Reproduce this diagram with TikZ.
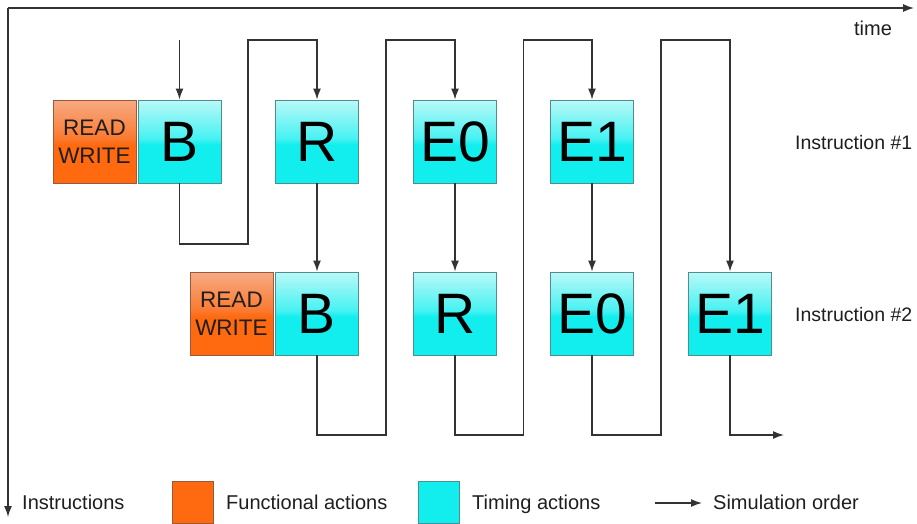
\documentclass[tikz,border=0pt]{standalone}
\usepackage{fontspec}
\setmainfont{Liberation Sans}
\usetikzlibrary{arrows.meta}
\definecolor{cyT}{HTML}{BAF8F8}
\definecolor{cyM}{HTML}{48F2F2}
\definecolor{cyB}{HTML}{12EEEE}
\definecolor{orT}{HTML}{F7AA84}
\definecolor{orM}{HTML}{FB7A30}
\definecolor{orB}{HTML}{FF6A10}
\definecolor{cyEdge}{HTML}{4E8E8E}
\definecolor{orEdge}{HTML}{9A5A3A}
\definecolor{lineC}{HTML}{333333}
\definecolor{txt}{HTML}{1E1E1E}
\pgfdeclareverticalshading{cyshade}{100bp}{color(0bp)=(cyB); color(25bp)=(cyB); color(48bp)=(cyB); color(52bp)=(cyM); color(75bp)=(cyT); color(100bp)=(cyT)}
\pgfdeclareverticalshading{orshade}{100bp}{color(0bp)=(orB); color(25bp)=(orB); color(48bp)=(orB); color(52bp)=(orM); color(75bp)=(orT); color(100bp)=(orT)}
\tikzset{
  timing/.style={draw=cyEdge, line width=0.9pt, shading=cyshade, minimum width=83pt, minimum height=83pt, inner sep=0pt, text=black, font=\fontsize{57}{60}\selectfont},
  func/.style={draw=orEdge, line width=0.9pt, shading=orshade, minimum width=83pt, minimum height=83pt, inner sep=0pt, text=txt, align=center, font=\fontsize{22.5}{28}\selectfont},
  flow/.style={draw=lineC, line width=1.4pt, -{Latex[length=11pt,width=8pt]}},
  lbl/.style={text=txt, font=\fontsize{20}{22}\selectfont, inner sep=0pt, anchor=west, text height=14.5pt, text depth=4.5pt},
  legsq/.style={line width=0.8pt, minimum width=41pt, minimum height=42pt, inner sep=0pt}
}
\begin{document}
\begin{tikzpicture}[x=1pt,y=-1pt]
\useasboundingbox (0,0) rectangle (917,523);
\fill[white] (0,0) rectangle (917,523);
% axes
\coordinate (o) at (8,8);
\coordinate (tend) at (914,8);
\coordinate (iend) at (8,517);
\draw[flow] (o) -- (tend);
\draw[flow] (o) -- (iend);
\node[lbl, anchor=center] (time) at (873,30) {time};
% row 1
\node[func] (rw1) at (94.5,141.5) {READ\\WRITE};
\node[timing] (b1) at (179.5,141.5) {B};
\node[timing] (r1) at (317,141.5) {R};
\node[timing] (e01) at (455,141.5) {E0};
\node[timing] (e11) at (592,141.5) {E1};
% row 2
\node[func] (rw2) at (231.5,313.5) {READ\\WRITE};
\node[timing] (b2) at (317,313.5) {B};
\node[timing] (r2) at (455,313.5) {R};
\node[timing] (e02) at (592,313.5) {E0};
\node[timing] (e12) at (730,313.5) {E1};
% instruction labels
\node[lbl, font=\fontsize{19.5}{22}\selectfont] (i1) at (795,144) {Instruction \#1};
\node[lbl, font=\fontsize{19.5}{22}\selectfont] (i2) at (795,316) {Instruction \#2};
% simulation order
\coordinate (s0) at (179.5,40);
\coordinate (fin) at (784,435);
\draw[flow] (s0) -- (b1.north);
\draw[flow] (b1.south) |- (248,244) |- (r1.north |- s0) -- (r1.north);
\draw[flow] (r1.south) -- (b2.north);
\draw[flow] (b2.south) |- (386,435) |- (e01.north |- s0) -- (e01.north);
\draw[flow] (e01.south) -- (r2.north);
\draw[flow] (r2.south) |- (523.5,435) |- (e11.north |- s0) -- (e11.north);
\draw[flow] (e11.south) -- (e02.north);
\draw[flow] (e02.south) |- (661,435) |- (e12.north |- s0) -- (e12.north);
\draw[flow] (e12.south) |- (fin);
% legend
\node[lbl] (lgI) at (22,504) {Instructions};
\node[legsq, draw=orEdge, fill=orB] (lgF) at (192.5,502) {};
\node[lbl] (lgFt) at (226,504) {Functional actions};
\node[legsq, draw=cyEdge, fill=cyB] (lgT) at (439,502) {};
\node[lbl] (lgTt) at (472,504) {Timing actions};
\coordinate (la) at (655,503);
\coordinate (lb) at (702,503);
\node[lbl] (lgS) at (713,504) {Simulation order};
\draw[flow] (la) -- (lb);
\end{tikzpicture}
\end{document}
